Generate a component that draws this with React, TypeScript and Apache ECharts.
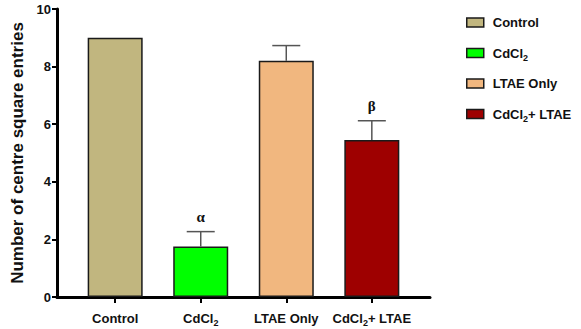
import React, { useEffect, useRef } from "react";
import * as echarts from "echarts";

const categories = ["Control", "CdCl2", "LTAE Only", "CdCl2+ LTAE"];
const means = [9.0, 1.75, 8.2, 5.45];
const errors = [0, 0.52, 0.53, 0.67];
const marks = ["", "α", "", "β"];
const colors = ["#c1b67f", "#00ff00", "#f1b77f", "#9e0000"];
const yTicks = [0, 2, 4, 6, 8, 10];

const SANS = "'Liberation Sans Narrow', 'Arial Narrow', 'Liberation Sans', Arial, sans-serif";

function toRich(name: string): string {
  if (name.startsWith("CdCl2")) {
    const rest = name.slice(5);
    return "{n|CdCl}{s|2}" + (rest ? "{n|" + rest + "}" : "");
  }
  return "{n|" + name + "}";
}

const richStyles = {
  n: { fontFamily: SANS, fontWeight: "bold", fontSize: 13, color: "#111", lineHeight: 18 },
  s: { fontFamily: SANS, fontWeight: "bold", fontSize: 9, color: "#111", lineHeight: 18, padding: [9, 0, 0, 0] },
};

export default function App() {
  const ref = useRef<HTMLDivElement>(null);
  useEffect(() => {
    if (!ref.current) return;
    const chart = echarts.init(ref.current, undefined, { renderer: "svg" });
    const barSeries = categories.map((c, i) => ({
      name: c,
      type: "bar",
      data: [[i, means[i]]],
      barWidth: 55,
      barGap: "-100%",
      itemStyle: { color: colors[i], borderColor: "#1a1a1a", borderWidth: 1.5 },
      z: 2,
    }));
    const errData = categories.map((c, i) => [i, means[i], errors[i]]);
    chart.setOption({
      animation: false,
      grid: { left: 57, right: 151, top: 9, bottom: 32 },
      legend: {
        data: categories,
        orient: "vertical",
        left: 466,
        top: 16,
        padding: 0,
        itemWidth: 17,
        itemHeight: 9,
        itemGap: 15,
        icon: "rect",
        itemStyle: { borderColor: "#1a1a1a", borderWidth: 1.5 },
        formatter: (name: string) => toRich(name),
        textStyle: { rich: richStyles, padding: [0, 0, 0, 4] },
      },
      xAxis: {
        type: "value",
        min: -0.68,
        max: 3.68,
        splitLine: { show: false },
        axisLine: { show: true, onZero: false, lineStyle: { color: "#000", width: 3 } },
        axisTick: { show: true, customValues: [0, 1, 2, 3], length: 6, lineStyle: { color: "#000", width: 2 } },
        axisLabel: {
          customValues: [0, 1, 2, 3],
          margin: 12,
          formatter: (v: number) => toRich(categories[Math.round(v)]),
          rich: richStyles,
        },
      },
      yAxis: {
        type: "value",
        min: 0,
        max: 10,
        interval: 2,
        splitLine: { show: false },
        axisLine: { show: true, onZero: false, lineStyle: { color: "#000", width: 3 } },
        axisTick: { show: true, length: 5, lineStyle: { color: "#000", width: 2 } },
        axisLabel: {
          fontFamily: SANS,
          fontWeight: "bold",
          fontSize: 13,
          color: "#111",
          margin: 6,
          customValues: yTicks,
        },
        name: "Number of centre square entries",
        nameLocation: "middle",
        nameGap: 23,
        nameTextStyle: { fontFamily: "'Liberation Sans', Arial, sans-serif", fontWeight: "bold", fontSize: 17, color: "#111" },
      },
      series: [
        ...barSeries,
        {
          name: "err",
          type: "custom",
          data: errData,
          z: 3,
          renderItem: (params: any, api: any) => {
            const x = api.value(0);
            const m = api.value(1);
            const e = api.value(2);
            const idx = params.dataIndex;
            if (!e) return { type: "group", children: [] };
            const base = api.coord([x, m]);
            const top = api.coord([x, m + e]);
            const half = 14;
            return {
              type: "group",
              children: [
                { type: "line", shape: { x1: base[0], y1: base[1], x2: top[0], y2: top[1] }, style: { stroke: "#555", lineWidth: 1.5 } },
                { type: "line", shape: { x1: top[0] - half, y1: top[1], x2: top[0] + half, y2: top[1] }, style: { stroke: "#555", lineWidth: 1.5 } },
                {
                  type: "text",
                  x: top[0],
                  y: top[1] - 7,
                  style: {
                    text: marks[idx],
                    fill: "#111",
                    font: "bold 15px 'Liberation Serif', 'DejaVu Serif', serif",
                    align: "center",
                    verticalAlign: "bottom",
                  },
                },
              ],
            };
          },
        },
      ],
    });
    return () => chart.dispose();
  }, []);
  return <div ref={ref} style={{ width: 581, height: 329, position: "absolute", left: 0, top: 0 }} />;
}
